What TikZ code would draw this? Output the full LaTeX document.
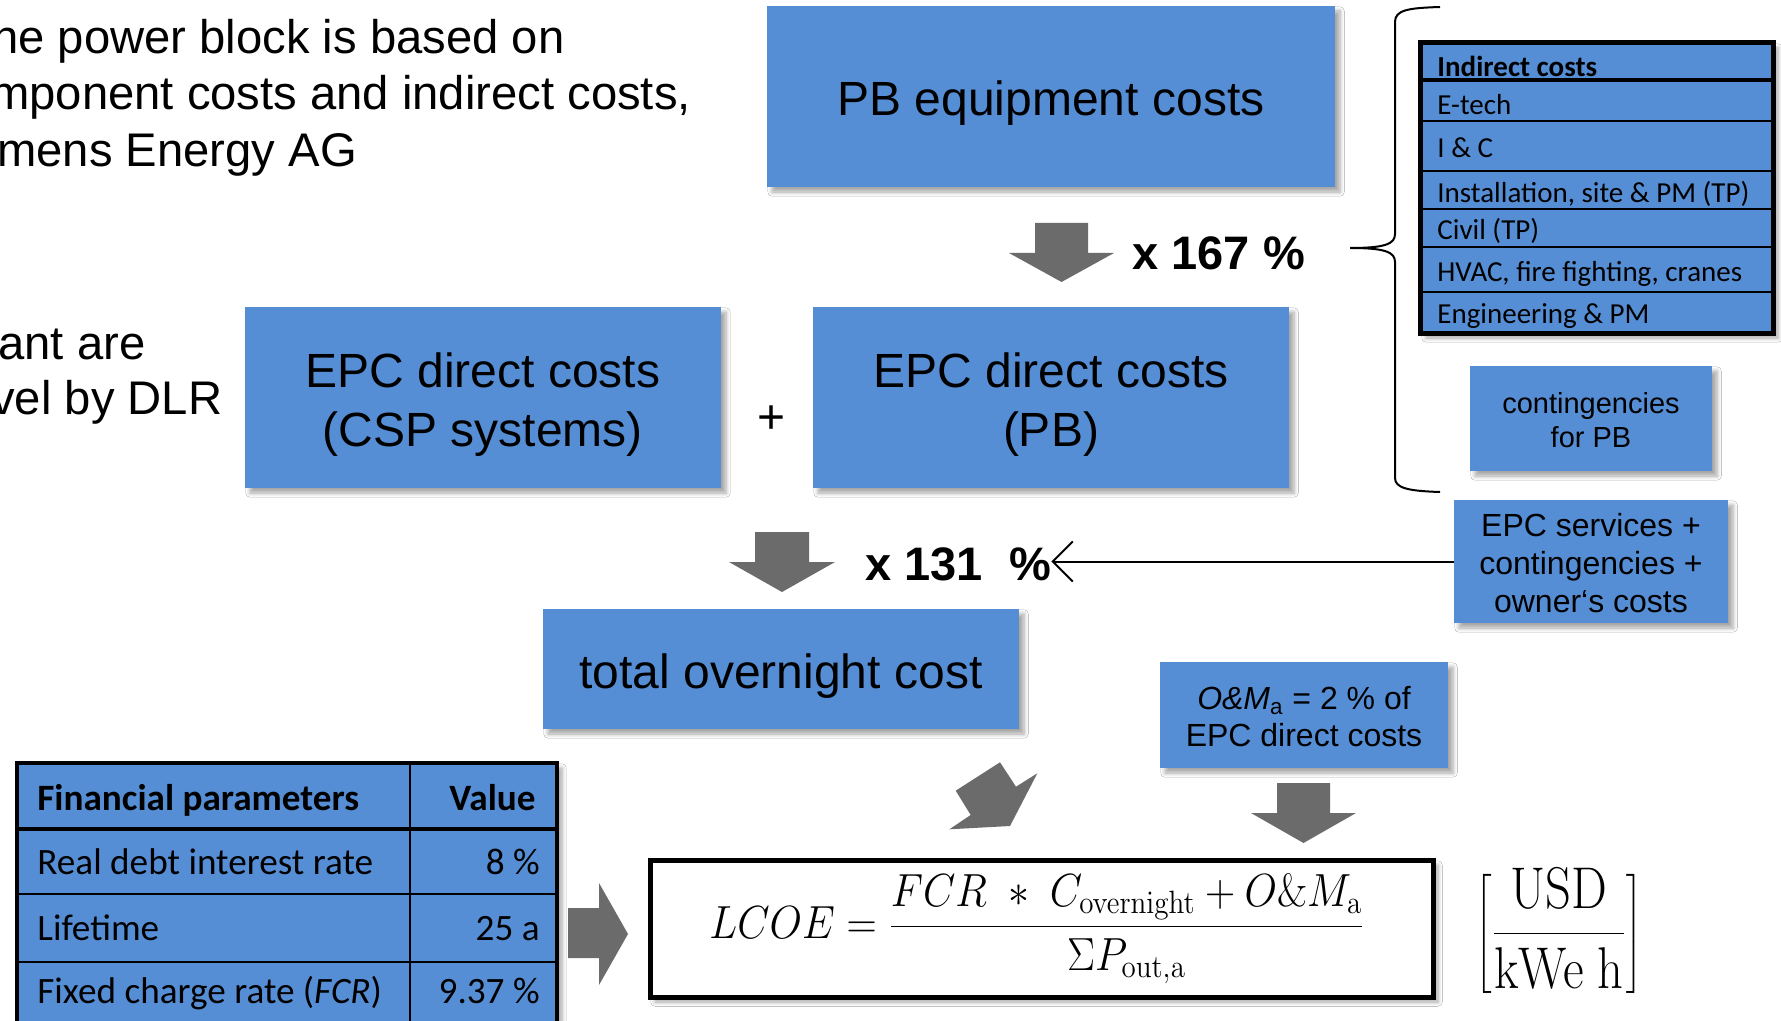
\documentclass[tikz,border=0pt]{standalone}
\usepackage[no-math]{fontspec}
\usepackage{graphicx}
\setmainfont{Liberation Sans}
\newfontfamily\calibri{Carlito}
\usetikzlibrary{arrows.meta,shadows.blur}
\definecolor{boxblue}{HTML}{558ED5}
\definecolor{arrgray}{HTML}{6B6B6B}
\newcommand\myfs[2]{\fontsize{#1}{#2}\selectfont}
\begin{document}
\begin{tikzpicture}[x=0.5pt,y=-0.5pt,
  shad/.style={blur shadow={shadow xshift=2.5pt, shadow yshift=-2.5pt, shadow blur steps=6, shadow opacity=35}},
  bbox/.style={fill=boxblue, inner sep=0pt, align=center, shad},
  btxt/.style={inner sep=0pt, align=center},
  lefttxt/.style={inner sep=0pt, font=\myfs{23.6pt}{27pt}},
  mult/.style={inner sep=0pt, font=\myfs{23.5pt}{28pt}\bfseries},
  indtxt/.style={inner sep=0pt, font=\calibri\myfs{14.5pt}{17pt}},
  fintxt/.style={inner sep=0pt, font=\calibri\myfs{18.6pt}{22pt}},
  blockarrow/.style={fill=arrgray},
  conn/.style={line width=1pt, -{Straight Barb[length=10pt,width=20pt,line width=1pt]}}
]
\clip (0,0) rectangle (1781,1021);
\fill[white] (0,0) rectangle (1781,1021);

% left texts (cut at the left edge)
\node[lefttxt, anchor=base west] (l1) at (-8,54) {he power block is based on};
\node[lefttxt, anchor=base west] (l2) at (-10,110) {mponent costs and indirect costs,};
\node[lefttxt, anchor=base west] (l3) at (-3,167) {mens Energy AG};
\node[lefttxt, anchor=base west] (l4) at (-2,359) {ant are};
\node[lefttxt, anchor=base west] (l5) at (-9,414) {vel by DLR};

% main boxes
\node[bbox, minimum width=284pt, minimum height=90.5pt] (pb) at (1051,96.5) {};
\node[btxt, font=\myfs{24pt}{29.5pt}] (pbt) at ([yshift=-3.5pt]pb.center) {PB equipment costs};
\node[bbox, minimum width=238pt, minimum height=90.5pt] (csp) at (483,397.5) {};
\node[btxt, font=\myfs{24pt}{29.5pt}] (cspt) at ([yshift=-3.5pt]csp.center) {EPC direct costs\\(CSP systems)};
\node[bbox, minimum width=238pt, minimum height=90.5pt] (epcpb) at (1051,397.5) {};
\node[btxt, font=\myfs{24pt}{29.5pt}] (epcpbt) at ([yshift=-3.5pt]epcpb.center) {EPC direct costs\\(PB)};
\node[inner sep=0pt, font=\myfs{24pt}{29pt}] (plus) at (772,420) {+};
\node[bbox, minimum width=238pt, minimum height=60pt] (total) at (781,669) {};
\node[btxt, font=\myfs{24pt}{29pt}] (totalt) at ([yshift=-3.5pt]total.center) {total overnight cost};
\node[bbox, minimum width=144pt, minimum height=53pt] (om) at (1304,715) {};
\node[btxt, font=\myfs{16pt}{18.5pt}] (omt) at ([yshift=-0.8pt]om.center) {\textit{O\&M}\textsubscript{a} = 2 \% of\\EPC direct costs};
\node[bbox, minimum width=121pt, minimum height=52.5pt] (cont) at (1591,418.5) {};
\node[btxt, font=\myfs{14.5pt}{17pt}] (contt) at ([yshift=-0.6pt]cont.center) {contingencies\\for PB};
\node[bbox, minimum width=137pt, minimum height=61.5pt] (epcs) at (1591,561.5) {};
\node[btxt, font=\myfs{16pt}{19pt}] (epcst) at ([yshift=-0.8pt]epcs.center) {EPC services +\\contingencies +\\owner‘s costs};

% multipliers
\node[mult, anchor=base west] (t167) at (1132,270) {x 167 \%};
\node[mult, anchor=base west] (t131) at (865,580) {x 131\ \ \%};

% block arrows
\fill[blockarrow] (1035,223) -- (1088,223) -- (1088,253) -- (1114,253) -- (1061.5,282) -- (1009,253) -- (1035,253) -- cycle;
\fill[blockarrow] (755,532) -- (809,532) -- (809,562) -- (835,562) -- (782,592) -- (729,562) -- (755,562) -- cycle;
\fill[blockarrow] (1277,783) -- (1330,783) -- (1330,813) -- (1356,813) -- (1303.5,843) -- (1251,813) -- (1277,813) -- cycle;
\fill[blockarrow] (568,908) -- (599,908) -- (599,883) -- (628,934) -- (599,985) -- (599,958) -- (568,958) -- cycle;
\fill[blockarrow] (1000,762.3) -- (1016,786.7) -- (1037.3,773.3) -- (1010,826) -- (949.3,829.3) -- (970.7,815) -- (955.7,790.7) -- cycle;

% connector from EPC services to x 131 %
\draw[conn] (epcs.west) -- (epcs.west -| t131.east);

% brace
\draw[line width=1pt] (1440,7) .. controls (1408,8) and (1395,10) .. (1395,22) -- (1395,234)
  .. controls (1395,244) and (1385,248) .. (1350,248)
  .. controls (1385,248) and (1395,252) .. (1395,262) -- (1395,478)
  .. controls (1395,488) and (1408,491) .. (1440,492);

% indirect costs table
\node[fill=boxblue, inner sep=0pt, minimum width=176pt, minimum height=145pt, shad] (ind) at (1597,188) {};
\draw[line width=2pt] (1421,80) -- (1773,80);
\foreach \yy in {121,171,209,247,292} \draw[line width=1.2pt] (1421,\yy) -- (1773,\yy);
\draw[line width=2.2pt] (ind.north west) rectangle (ind.south east);
\node[indtxt, anchor=base west] (i0) at (1437,77) {\bfseries Indirect costs};
\node[indtxt, anchor=base west] (i1) at (1437,115) {E-tech};
\node[indtxt, anchor=base west] (i2) at (1437,158) {I \& C};
\node[indtxt, anchor=base west] (i3) at (1437,203) {Installation, site \& PM (TP)};
\node[indtxt, anchor=base west] (i4) at (1437,240) {Civil (TP)};
\node[indtxt, anchor=base west] (i5) at (1437,282) {HVAC, fire fighting, cranes};
\node[indtxt, anchor=base west] (i6) at (1437,324) {Engineering \& PM};

% financial table
\node[fill=boxblue, inner sep=0pt, minimum width=270pt, minimum height=131pt, shad] (fin) at (287,894) {};
\draw[line width=2pt] (17,829) -- (557,829);
\draw[line width=1.2pt] (17,894) -- (557,894);
\draw[line width=1.2pt] (17,962) -- (557,962);
\draw[line width=1.2pt] (410,763) -- (410,1025);
\draw[line width=2pt] (fin.north west) rectangle (fin.south east);
\node[fintxt, anchor=base west] (f0) at (37,810) {\bfseries Financial parameters};
\node[fintxt, anchor=base east] (v0) at (536,810) {\bfseries Value};
\node[fintxt, anchor=base west] (f1) at (37,874) {Real debt interest rate};
\node[fintxt, anchor=base east] (v1) at (540,874) {8 \%};
\node[fintxt, anchor=base west] (f2) at (37,940) {Lifetime};
\node[fintxt, anchor=base east] (v2) at (540,940) {25 a};
\node[fintxt, anchor=base west] (f3) at (37,1003) {Fixed charge rate (\textit{FCR})};
\node[fintxt, anchor=base east] (v3) at (540,1003) {9.37 \%};

% LCOE formula box
\node[draw, line width=2.5pt, fill=white, inner sep=0pt, minimum width=391.5pt, minimum height=68.5pt, shad] (lcoe) at (1041.5,928.5) {};
\node[inner sep=0pt, font=\myfs{20.74pt}{25pt}] (form) at (1037,929) {\scalebox{1.01}[1.12]{$\displaystyle LCOE = \frac{FCR\;\ast\;C_{\mathrm{overnight}} + O\&M_{\mathrm{a}}}{\Sigma P_{\mathrm{out,a}}}$}};
\node[inner sep=0pt, font=\myfs{20.74pt}{25pt}] (unit) at (1559,931) {\scalebox{1.22}[1.42]{$\left[\displaystyle\frac{\mathrm{USD}}{\mathrm{kWe\ h}}\right]$}};
\end{tikzpicture}
\end{document}
